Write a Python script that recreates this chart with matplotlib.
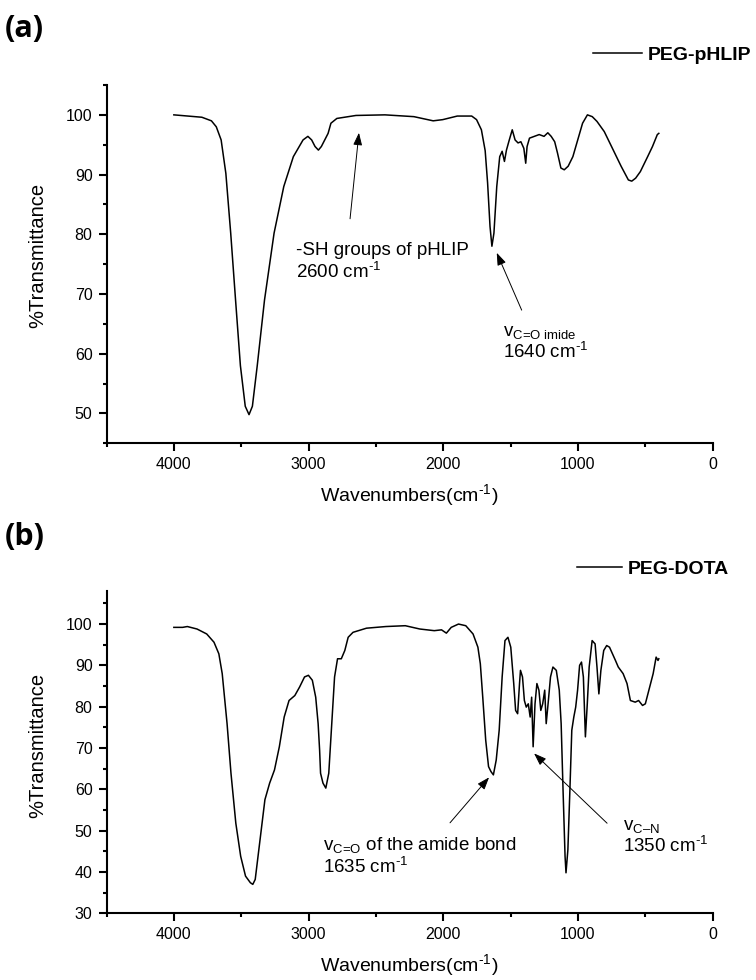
import matplotlib.pyplot as plt
from matplotlib.ticker import MultipleLocator

plt.rcParams['font.family'] = ['Liberation Sans', 'DejaVu Sans']
plt.rcParams['mathtext.fontset'] = 'custom'
plt.rcParams['mathtext.rm'] = 'Liberation Sans'
plt.rcParams['mathtext.it'] = 'Liberation Sans:italic'
plt.rcParams['mathtext.bf'] = 'Liberation Sans:bold'

# (a) PEG-pHLIP spectrum
wn_a = [4000, 3792, 3721, 3685, 3649, 3614, 3578, 3542, 3506, 3470, 3442, 3417,
        3381, 3327, 3256, 3184, 3113, 3041, 3005, 2977, 2952, 2927, 2905, 2880,
        2855, 2834, 2790, 2648, 2433, 2218, 2075, 2004, 1896, 1789, 1753, 1717,
        1689, 1671, 1653, 1639, 1624, 1603, 1581, 1563, 1546, 1531, 1510, 1488,
        1467, 1445, 1424, 1402, 1388, 1378, 1360, 1324, 1288, 1252, 1224, 1199,
        1173, 1152, 1127, 1102, 1073, 1038, 1002, 966, 930, 894, 859, 805, 751,
        680, 626, 601, 572, 537, 483, 447, 411, 400]
t_a = [100.0, 99.6, 99.0, 98.0, 95.8, 90.2, 80.2, 69.0, 58.0, 51.2, 49.8, 51.2,
       58.0, 69.0, 80.2, 88.0, 93.0, 95.8, 96.4, 95.8, 94.7, 94.1, 94.7, 95.8,
       96.9, 98.6, 99.4, 99.9, 100.0, 99.7, 99.0, 99.2, 99.8, 99.8, 99.2, 97.5,
       94.0, 88.6, 81.3, 78.0, 80.2, 88.0, 93.0, 93.9, 92.2, 94.1, 95.8, 97.5,
       95.8, 95.3, 95.5, 94.4, 91.9, 94.7, 96.1, 96.4, 96.7, 96.4, 97.0, 96.4,
       95.5, 93.6, 91.1, 90.8, 91.4, 93.0, 95.8, 98.6, 100.0, 99.7, 98.9, 97.2,
       94.7, 91.4, 89.1, 88.9, 89.4, 90.5, 93.0, 94.7, 96.7, 96.9]

# (b) PEG-DOTA spectrum
wn_b = [4000, 3935, 3900, 3828, 3756, 3702, 3666, 3641, 3605, 3576, 3540, 3504,
        3468, 3432, 3414, 3396, 3360, 3324, 3289, 3253, 3217, 3181, 3145, 3102,
        3066, 3030, 3001, 2972, 2947, 2929, 2918, 2911, 2893, 2872, 2850, 2828,
        2807, 2785, 2757, 2731, 2706, 2670, 2570, 2426, 2282, 2174, 2067, 2013,
        1977, 1941, 1887, 1833, 1779, 1743, 1725, 1707, 1685, 1664, 1646, 1628,
        1607, 1585, 1563, 1542, 1520, 1499, 1477, 1463, 1448, 1434, 1427, 1412,
        1398, 1384, 1369, 1355, 1344, 1333, 1319, 1305, 1290, 1276, 1262, 1247,
        1236, 1222, 1204, 1186, 1161, 1139, 1125, 1111, 1096, 1089, 1075, 1060,
        1046, 1031, 1017, 1003, 988, 974, 960, 945, 931, 917, 895, 873, 859, 845,
        830, 809, 787, 766, 744, 722, 701, 665, 636, 611, 575, 550, 521, 500,
        467, 442, 420, 406, 400]
t_b = [99.2, 99.2, 99.4, 98.8, 97.6, 95.6, 92.8, 88.0, 75.9, 63.9, 51.8, 43.8,
       39.0, 37.4, 37.0, 38.2, 47.8, 57.5, 61.5, 64.7, 70.3, 77.5, 81.5, 82.7,
       84.8, 87.2, 87.6, 86.4, 82.3, 75.9, 69.5, 63.9, 61.5, 60.3, 63.9, 75.9,
       87.2, 91.6, 91.6, 93.6, 96.8, 98.0, 99.0, 99.4, 99.6, 98.8, 98.4, 98.6,
       97.8, 99.2, 100.0, 99.6, 97.6, 94.4, 90.4, 82.3, 71.9, 65.5, 64.3, 63.5,
       67.1, 74.3, 87.2, 96.0, 96.8, 94.4, 85.6, 79.1, 78.3, 85.6, 88.8, 87.2,
       81.5, 79.9, 80.7, 77.5, 82.3, 70.3, 80.7, 85.6, 84.0, 79.1, 80.7, 84.0,
       75.9, 80.7, 87.2, 89.6, 88.8, 84.0, 75.9, 59.9, 43.8, 39.8, 45.4, 59.9,
       74.3, 77.5, 79.9, 84.0, 90.0, 90.8, 87.2, 72.7, 80.7, 89.6, 96.0, 95.2,
       89.6, 83.1, 88.8, 93.6, 94.8, 94.4, 92.8, 91.2, 89.6, 88.0, 85.6, 81.5,
       81.1, 81.5, 80.3, 80.7, 84.8, 88.0, 92.0, 91.2, 91.6]

W, H = 756, 980
fig = plt.figure(figsize=(W / 100, H / 100), dpi=100)

def px_axes(left, top, right, bottom):
    return fig.add_axes([left / W, 1 - bottom / H, (right - left) / W, (bottom - top) / H])

def style(ax, ymin, ymax, ylab_y, h_px):
    ax.set_xlim(4500, 0)
    ax.set_ylim(ymin, ymax)
    ax.set_xticks([4000, 3000, 2000, 1000, 0])
    ax.xaxis.set_minor_locator(MultipleLocator(500))
    ax.yaxis.set_major_locator(MultipleLocator(10))
    ax.yaxis.set_minor_locator(MultipleLocator(5))
    for s in ['top', 'right']:
        ax.spines[s].set_visible(False)
    for s in ['left', 'bottom']:
        ax.spines[s].set_linewidth(1.5)
    ax.tick_params(which='major', direction='out', length=6, width=1.5, labelsize=11.5, pad=4)
    ax.tick_params(which='minor', direction='out', length=3, width=1.5)
    ax.set_xlabel(r'Wavenumbers(cm$^{\text{-}1}$)', fontsize=14)
    ax.set_ylabel('%Transmittance', fontsize=14.5)
    ax.yaxis.set_label_coords(-0.098, ylab_y)
    ax.xaxis.set_label_coords(0.5, -39 / h_px)

def legend(ax, x, y, hl, pad):
    ax.legend(loc='center left', bbox_to_anchor=(x / W, 1 - y / H), bbox_transform=fig.transFigure,
              frameon=False, borderpad=0, borderaxespad=0, handlelength=hl, handletextpad=pad,
              prop={'weight': 'bold', 'size': 14})

arrow = dict(arrowstyle='-|>,head_length=0.75,head_width=0.27', color='black', lw=0.7,
             shrinkA=0, shrinkB=0)

# (a)
ax1 = px_axes(106.5, 85, 712.7, 443.3)
ax1.plot(wn_a, t_a, color='black', lw=1.1, label='PEG-pHLIP')
style(ax1, 45, 105, 0.525, 358.3)
legend(ax1, 593, 55, 2.5, 0.3)
ax1.annotate('', xy=(2626, 97.0), xytext=(2692, 82.6), arrowprops=arrow)
ax1.text(3093, 76.45, '-SH groups of pHLIP', fontsize=13.5, va='baseline')
ax1.text(3093, 72.76, r'2600 cm$^{\text{-}1}$', fontsize=13.5, va='baseline')
ax1.annotate('', xy=(1603, 76.9), xytext=(1418, 67.3), arrowprops=arrow)
ax1.text(1557, 62.9, r'v$_{\text{C=O imide}}$', fontsize=13.5, va='baseline')
ax1.text(1557, 59.3, r'1640 cm$^{\text{-}1}$', fontsize=13.5, va='baseline')

# (b)
ax2 = px_axes(106.5, 591, 712.7, 913.3)
ax2.plot(wn_b, t_b, color='black', lw=1.1, label='PEG-DOTA')
style(ax2, 30, 108, 0.522, 322.3)
legend(ax2, 577, 569, 2.3, 0.32)
ax2.annotate('', xy=(1660, 62.9), xytext=(1950, 51.9), arrowprops=arrow)
ax2.text(2893, 45.3, r'v$_{\text{C=O}}$ of the amide bond', fontsize=13.5, va='baseline')
ax2.text(2893, 39.75, r'1635 cm$^{\text{-}1}$', fontsize=13.5, va='baseline')
ax2.annotate('', xy=(1326, 68.7), xytext=(784, 51.8), arrowprops=arrow)
ax2.text(666, 50.1, r'v$_{\text{C–N}}$', fontsize=13.5, va='baseline')
ax2.text(666, 44.9, r'1350 cm$^{\text{-}1}$', fontsize=13.5, va='baseline')

fig.text(5 / W, 1 - 29 / H, '(a)', fontsize=22, fontweight='bold', family='Open Sans', va='center')
fig.text(5 / W, 1 - 537 / H, '(b)', fontsize=22, fontweight='bold', family='Open Sans', va='center')

fig.savefig('out.png', dpi=100)
